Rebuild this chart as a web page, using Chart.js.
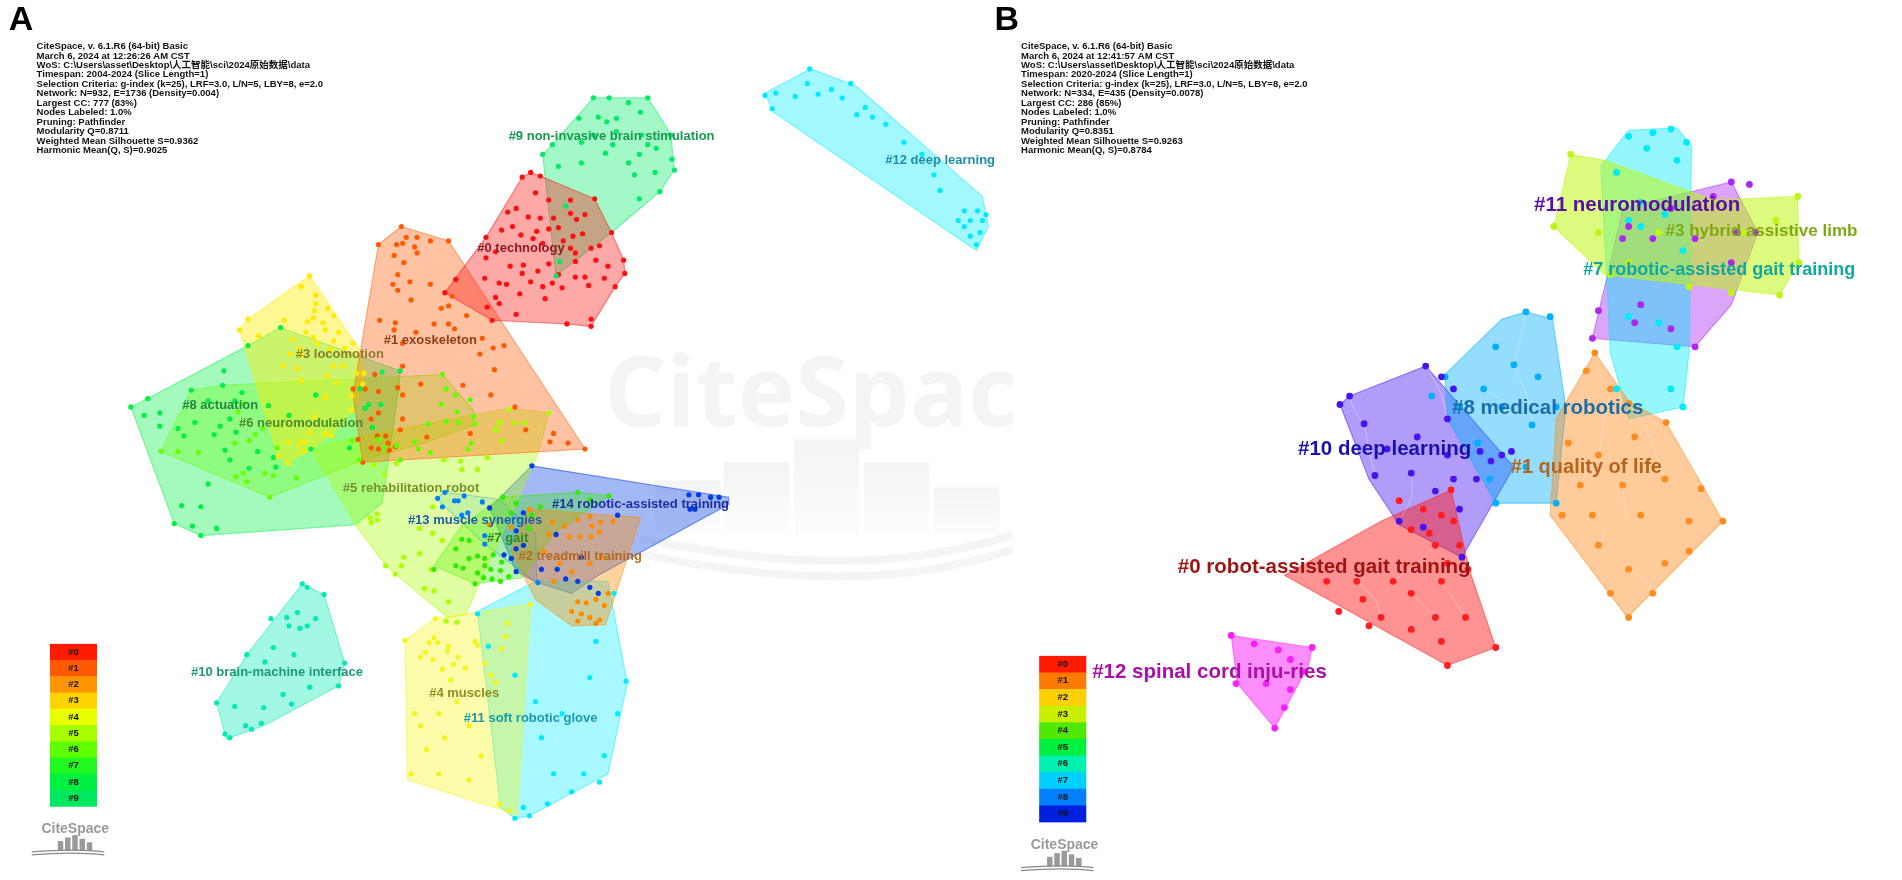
<!DOCTYPE html>
<html>
<head>
<meta charset="utf-8">
<title>CiteSpace cluster maps</title>
<script src="https://cdn.jsdelivr.net/npm/chart.js@4"></script>
<style>
  html, body { margin: 0; padding: 0; background: #fff; overflow: hidden; }
  #wrap { width: 1902px; height: 880px; }
</style>
</head>
<body>
<div id="wrap"><canvas id="map" width="1902" height="880"></canvas></div>
<script>
// all values, in picture units (1568 x 725)

// panel A
const a0Hull = [[429,144],[436,140],[444,143],[489,162],[503,190],[513,213],[514,224],[506,235],[486,268],[466,266],[404,263],[365,240],[399,194]];
const a0Pts = [[429,144],[436,140],[444,143],[489,162],[503,190],[513,213],[514,224],[506,235],[486,268],[466,266],[404,263],[365,240],[440,157],[451,163],[469,163],[424,170],[417,173],[434,177],[444,178],[455,178],[469,174],[474,179],[481,175],[421,185],[412,188],[441,189],[451,187],[459,186],[428,192],[399,194],[438,195],[463,197],[471,193],[479,191],[446,199],[486,203],[493,201],[469,203],[473,207],[407,206],[399,211],[490,213],[473,214],[419,218],[430,217],[451,216],[500,218],[442,222],[429,224],[398,228],[459,225],[473,227],[481,227],[497,228],[410,232],[416,233],[436,231],[446,235],[454,232],[462,236],[484,234],[427,241],[407,244],[410,249],[448,245],[400,252],[424,258],[486,262],[374,229]];
const a1Hull = [[329,185],[368,197],[481,370],[297,381],[289,325],[310,200]];
const a1Pts = [[329,185],[310,200],[368,197],[333,194],[342,194],[353,197],[325,200],[330,199],[340,202],[342,207],[323,209],[331,215],[326,225],[322,233],[336,231],[353,233],[326,238],[337,246],[371,243],[368,251],[362,253],[383,259],[311,263],[324,265],[323,271],[356,266],[368,266],[373,270],[341,273],[330,282],[396,278],[405,286],[414,284],[394,291],[330,301],[406,304],[307,308],[380,317],[345,316],[326,319],[289,320],[299,320],[310,322],[330,325],[403,325],[310,340],[304,345],[330,345],[328,354],[386,357],[350,360],[309,359],[316,359],[293,362],[318,365],[324,368],[304,369],[310,370],[319,371],[297,381],[423,335],[432,354],[455,357],[452,364],[467,365],[481,370]];
const a2Hull = [[434,420],[527,427],[498,516],[470,517],[440,495],[420,455]];
const a2Pts = [[435,420],[454,431],[464,434],[475,429],[485,426],[487,434],[494,431],[504,430],[493,439],[451,441],[468,443],[477,443],[486,443],[402,433],[420,435],[475,497],[482,498],[490,495],[497,500],[470,505],[478,507],[485,510],[493,512],[475,513],[490,515],[500,490],[447,455],[460,465],[470,472],[485,465],[495,460],[455,480]];
const a3Hull = [[253,226],[294,287],[298,308],[297,320],[288,338],[272,358],[235,382],[227,376],[195,271],[202,262]];
const a3Pts = [[253,226],[195,271],[202,262],[246,235],[258,242],[258,249],[257,255],[268,253],[273,259],[256,261],[232,263],[251,264],[264,265],[266,271],[250,273],[256,277],[277,273],[211,276],[239,279],[273,280],[259,282],[289,282],[245,286],[270,287],[282,286],[237,291],[246,291],[231,301],[273,301],[281,301],[243,303],[268,309],[292,307],[298,307],[246,313],[275,315],[297,316],[288,326],[266,327],[288,338],[257,343],[253,356],[266,357],[271,359],[235,364],[245,365],[249,364],[248,372],[227,376],[235,382]];
const a4Hull = [[357,511],[436,499],[425,675],[418,672],[334,645],[332,529]];
const a4Pts = [[357,511],[332,529],[356,527],[352,531],[359,531],[368,534],[367,538],[349,539],[345,543],[355,545],[376,543],[372,549],[382,552],[363,553],[370,562],[390,530],[392,533],[398,548],[403,558],[407,564],[412,536],[415,526],[417,515],[436,499],[340,590],[345,600],[360,590],[375,580],[385,600],[350,620],[365,610],[395,625],[360,640],[385,645],[410,665],[418,671],[337,640]];
const a5Hull = [[254,370],[293,360],[418,336],[451,340],[442,374],[382,508],[367,510],[316,467],[291,433]];
const a5Pts = [[418,337],[451,340],[410,348],[423,348],[431,348],[408,354],[412,363],[400,377],[392,387],[364,379],[378,380],[379,387],[306,383],[325,382],[315,391],[303,427],[309,424],[309,429],[304,431],[355,418],[344,436],[355,440],[363,446],[344,457],[331,460],[329,467],[316,467],[324,474],[348,486],[356,488],[368,497],[354,470],[366,513],[375,514],[411,348],[407,354]];
const a6Hull = [[155,321],[181,317],[363,308],[389,338],[389,350],[345,366],[300,378],[220,410],[130,372]];
const a6Pts = [[363,308],[366,320],[374,325],[386,329],[362,333],[375,339],[389,343],[390,349],[376,348],[366,347],[351,349],[340,364],[343,370],[353,373],[325,367],[328,379],[310,362],[315,369],[387,365],[384,370],[130,372],[144,372],[161,373],[191,365],[203,363],[208,358],[214,353],[194,339],[198,332],[226,369],[288,363],[294,379],[192,393],[198,390],[216,390],[223,392],[201,397],[242,394],[220,410]];
const a7Hull = [[356,467],[379,434],[412,410],[475,406],[501,409],[455,440],[429,477],[390,482]];
const a7Pts = [[379,445],[385,446],[374,453],[385,461],[392,459],[398,461],[405,458],[412,464],[374,467],[380,469],[398,467],[403,470],[411,471],[392,473],[397,477],[404,478],[411,480],[418,476],[390,482],[356,470],[413,410],[424,415],[420,423],[437,425],[435,436],[475,406],[485,412],[501,409],[444,418]];
const a8Hull = [[105,335],[119,328],[202,284],[229,269],[328,305],[327,319],[313,415],[291,433],[163,442],[141,432]];
const a8Pts = [[182,305],[197,323],[169,330],[191,330],[219,334],[105,335],[119,328],[116,342],[129,340],[158,348],[129,351],[144,353],[149,359],[174,358],[187,345],[179,351],[192,356],[236,342],[258,325],[295,320],[313,306],[328,305],[302,333],[299,336],[312,333],[305,352],[286,369],[254,370],[210,372],[183,371],[187,379],[203,386],[225,385],[223,377],[202,284],[229,269],[169,399],[147,417],[163,418],[141,432],[156,434],[176,436],[163,442],[155,321],[181,317]];
const a9Hull = [[488,78],[533,78],[552,108],[555,138],[543,156],[503,190],[457,226],[448,144],[446,125],[454,117]];
const a9Pts = [[488,78],[501,78],[533,78],[517,82],[527,90],[476,95],[492,94],[499,98],[507,95],[507,106],[488,109],[528,109],[552,109],[454,117],[478,115],[504,117],[533,117],[540,120],[446,125],[498,124],[526,125],[553,129],[459,135],[478,132],[517,132],[555,138],[522,142],[539,140],[543,156],[526,162],[465,168],[460,214],[457,226]];
const a10Hull = [[247,482],[265,491],[282,548],[277,567],[215,600],[184,611],[176,581],[201,541]];
const a10Pts = [[247,482],[251,485],[265,491],[221,511],[234,510],[243,506],[258,511],[236,517],[245,519],[251,517],[223,535],[240,541],[201,541],[216,547],[253,568],[231,574],[238,582],[176,581],[191,584],[215,585],[282,548],[277,567],[183,607],[187,610],[200,600],[205,603],[213,598]];
const a11Hull = [[392,505],[440,480],[500,480],[516,565],[500,640],[435,675],[423,677],[411,668]];
const a11Pts = [[392,507],[401,534],[423,558],[515,563],[508,590],[497,625],[480,640],[493,647],[470,655],[450,665],[435,675],[423,677],[430,668],[455,640],[445,610],[462,590],[440,580],[485,560],[490,530],[505,490]];
const a12Hull = [[630,74],[668,54],[705,68],[810,160],[815,185],[805,205],[637,90]];
const a12Pts = [[630,76],[639,74],[667,54],[665,66],[655,77],[674,75],[636,87],[701,66],[685,71],[694,78],[713,86],[706,92],[719,94],[730,100],[745,115],[760,125],[770,142],[775,155],[790,180],[795,172],[800,180],[806,172],[810,180],[808,190],[800,193],[795,185],[805,200],[813,175]];
const a13Hull = [[358,411],[365,406],[381,408],[410,412],[440,440],[441,481],[398,449]];
const a13Pts = [[359,411],[365,406],[373,413],[376,413],[381,409],[363,418],[396,414],[379,425],[384,423],[398,442],[398,449],[442,481]];
const a14Hull = [[437,384],[600,410],[600,416],[492,475],[470,490],[441,481],[424,472],[402,419]];
const a14Pts = [[437,384],[402,419],[430,423],[424,438],[424,453],[414,458],[420,461],[424,472],[457,441],[508,425],[567,408],[575,408],[585,410],[592,410],[568,420],[572,420],[458,470],[465,478],[475,480],[485,485],[492,490],[478,460],[445,470],[430,450]];

// panel B
const b0Hull = [[1198,404],[1213,470],[1235,535],[1195,550],[1060,475],[1140,430]];
const b0Pts = [[1198,404],[1155,413],[1175,420],[1190,425],[1200,430],[1180,440],[1165,437],[1205,450],[1185,450],[1195,465],[1212,470],[1095,480],[1120,480],[1150,480],[1190,480],[1105,505],[1125,495],[1165,490],[1140,510],[1185,510],[1130,517],[1210,510],[1235,535],[1195,550],[1165,520],[1190,530]];
const b1Hull = [[1317,290],[1345,330],[1376,348],[1423,430],[1344,510],[1280,425],[1285,345]];
const b1Pts = [[1317,290],[1310,305],[1330,320],[1345,332],[1376,348],[1405,403],[1423,430],[1295,365],[1320,375],[1350,360],[1305,400],[1340,400],[1375,395],[1290,425],[1315,425],[1355,425],[1395,430],[1320,450],[1345,470],[1375,465],[1395,455],[1330,490],[1345,510],[1365,490]];
const b3Hull = [[1297,125],[1325,130],[1415,163],[1485,160],[1486,215],[1470,242],[1325,225],[1283,185]];
const b3Pts = [[1297,125],[1283,185],[1320,190],[1345,185],[1370,190],[1415,163],[1485,160],[1467,180],[1440,190],[1486,215],[1470,242],[1430,240],[1395,235],[1330,225],[1345,215]];
const b7Hull = [[1345,105],[1385,103],[1397,118],[1395,290],[1390,335],[1345,345],[1330,290],[1322,135]];
const b7Pts = [[1365,107],[1380,104],[1345,110],[1393,115],[1360,120],[1385,130],[1335,140],[1355,165],[1345,180],[1375,175],[1355,185],[1390,205],[1345,260],[1370,265],[1385,285],[1380,320],[1390,335],[1335,320]];
const b8Hull = [[1193,308],[1240,262],[1260,256],[1282,262],[1293,335],[1285,415],[1235,415],[1195,345]];
const b8Pts = [[1235,285],[1260,256],[1280,260],[1250,300],[1270,310],[1285,335],[1225,320],[1193,310],[1205,335],[1240,335],[1265,350],[1220,365],[1285,415],[1235,415],[1260,385],[1230,395],[1182,326]];
const b10Hull = [[1177,301],[1250,385],[1207,460],[1155,433],[1130,395],[1106,333],[1114,326]];
const b10Pts = [[1177,301],[1114,326],[1106,333],[1126,349],[1190,310],[1200,320],[1145,370],[1170,360],[1195,345],[1222,372],[1195,375],[1240,375],[1248,372],[1231,380],[1219,395],[1135,392],[1155,430],[1175,435],[1207,460],[1205,420],[1200,395],[1165,390],[1185,405]];
const b11Hull = [[1340,170],[1430,148],[1452,190],[1430,250],[1400,285],[1315,278],[1330,215]];
const b11Pts = [[1430,148],[1445,150],[1415,160],[1380,170],[1345,185],[1340,195],[1365,195],[1400,195],[1435,190],[1450,190],[1430,215],[1320,255],[1315,278],[1355,250],[1380,270],[1400,285],[1350,265]];
const b12Hull = [[1016,525],[1083,535],[1080,550],[1052,602],[1021,565]];
const b12Pts = [[1016,525],[1035,532],[1055,537],[1083,535],[1065,545],[1075,555],[1020,565],[1045,565],[1065,570],[1060,585],[1052,602]];

// faint curved links in panel B
const bLinks = [
  [[1114,326],[1118,338],[1126,349]], [[1126,349],[1130,370],[1135,392]], [[1177,301],[1190,325],[1195,345]],
  [[1155,430],[1165,410],[1165,390]], [[1260,256],[1255,280],[1250,300]], [[1250,300],[1262,330],[1265,350]],
  [[1225,320],[1240,330],[1240,335]], [[1330,320],[1325,345],[1320,375]], [[1320,375],[1310,390],[1305,400]],
  [[1340,400],[1345,430],[1355,425]], [[1315,425],[1325,440],[1320,450]], [[1345,470],[1360,480],[1365,490]],
  [[1120,480],[1135,495],[1140,510]], [[1165,490],[1175,500],[1185,510]], [[1150,480],[1170,465],[1185,450]],
  [[1345,332],[1360,355],[1375,395]], [[1190,480],[1200,495],[1210,510]]
];

// cluster labels
const labelTexts = ['#0 technology','#1 exoskeleton','#2 treadmill training','#3 locomotion','#4 muscles','#5 rehabilitation robot','#6 neuromodulation','#7 gait','#8 actuation','#9 non-invasive brain stimulation','#10 brain-machine interface','#11 soft robotic glove','#12 deep learning','#13 muscle synergies','#14 robotic-assisted training'];
const labelX = [428,353,477,278,381,337,246,417,179,503,226,436,775,390,527];
const labelY = [203,280,459,291,573,403,349,444,334,110,556,594,130,429,416];
const labelColors = ['#8e1a24','#8f3d15','#b5681f','#8a7d2a','#8e8f24','#76922c','#4f8a2c','#2d8a1e','#1c8a40','#17994f','#1a9a78','#1d9aa6','#1a90aa','#1f5ca8','#1a2fa0'];
const labelTextsB = ['#0 robot-assisted gait training','#1 quality of life','#3 hybrid assistive limb','#7 robotic-assisted gait training','#8 medical robotics','#10 deep learning','#11 neuromodulation','#12 spinal cord inju-ries'];
const labelXB = [1093,1310,1455,1420,1278,1143,1352,998];
const labelYB = [468,385,189,221,336,370,167,556];
const labelSizesB = [20.5,20,17,18,20.5,20.5,20.5,20.5];
const labelColorsB = ['#a01414','#b5651d','#80a812','#12a8a0','#1b6fa8','#1a10b0','#5a10a8','#a810a8'];

// info blocks
const infoA = ['CiteSpace, v. 6.1.R6 (64-bit) Basic','March 6, 2024 at 12:26:26 AM CST','WoS: C:\\Users\\asset\\Desktop\\人工智能\\sci\\2024原始数据\\data','Timespan: 2004-2024 (Slice Length=1)','Selection Criteria: g-index (k=25), LRF=3.0, L/N=5, LBY=8, e=2.0','Network: N=932, E=1736 (Density=0.004)','Largest CC: 777 (83%)','Nodes Labeled: 1.0%','Pruning: Pathfinder','Modularity Q=0.8711','Weighted Mean Silhouette S=0.9362','Harmonic Mean(Q, S)=0.9025'];
const infoB = ['CiteSpace, v. 6.1.R6 (64-bit) Basic','March 6, 2024 at 12:41:57 AM CST','WoS: C:\\Users\\asset\\Desktop\\人工智能\\sci\\2024原始数据\\data','Timespan: 2020-2024 (Slice Length=1)','Selection Criteria: g-index (k=25), LRF=3.0, L/N=5, LBY=8, e=2.0','Network: N=334, E=435 (Density=0.0078)','Largest CC: 286 (85%)','Nodes Labeled: 1.0%','Pruning: Pathfinder','Modularity Q=0.8351','Weighted Mean Silhouette S=0.9263','Harmonic Mean(Q, S)=0.8784'];

// colour keys
const keyNames = ['#0','#1','#2','#3','#4','#5','#6','#7','#8','#9'];
const keyColorsA = ['#ff1a00','#ff5a00','#ff9500','#ffd500','#e8ff00','#a8ff00','#60ff00','#20f820','#00f040','#00e860'];
const keyColorsB = ['#ff1a00','#ff7a00','#ffd000','#c8ef00','#50e800','#00f040','#00f0b0','#00d0ff','#0080ff','#0020e0'];

// watermark bars in panel A
const wmBarX = [539,596,654,712,770];
const wmBarTop = [396,381,362,381,402];

function pts(list) { return list.map(p => ({ x: p[0], y: p[1] })); }

const datasets = [];
function addCluster(hull, points, rgb, fillA, radius, order) {
  datasets.push({
    data: pts(hull.concat([hull[0]])), showLine: true, fill: 'shape', pointRadius: 0,
    borderColor: 'rgba(' + rgb + ',0.5)', borderWidth: 1.1, backgroundColor: 'rgba(' + rgb + ',' + fillA + ')',
    tension: 0, order: order
  });
  datasets.push({ data: pts(points), pointRadius: radius, pointBorderWidth: 0, pointBackgroundColor: 'rgb(' + rgb + ')', order: 1 });
}

// order: bigger goes underneath, so #0 ends up on top
addCluster(a14Hull, a14Pts, '0,60,230', 0.36, 2.6, 114);
addCluster(a13Hull, a13Pts, '0,130,255', 0.16, 2.6, 113);
addCluster(a12Hull, a12Pts, '0,235,255', 0.36, 2.6, 112);
addCluster(a11Hull, a11Pts, '0,235,255', 0.34, 2.6, 111);
addCluster(a10Hull, a10Pts, '0,235,180', 0.36, 2.6, 110);
addCluster(a9Hull, a9Pts, '0,235,100', 0.36, 2.6, 109);
addCluster(a8Hull, a8Pts, '0,240,70', 0.36, 2.6, 108);
addCluster(a7Hull, a7Pts, '50,235,0', 0.32, 2.6, 107);
addCluster(a6Hull, a6Pts, '100,255,0', 0.3, 2.6, 106);
addCluster(a5Hull, a5Pts, '170,255,0', 0.36, 2.6, 105);
addCluster(a4Hull, a4Pts, '245,245,30', 0.38, 2.6, 104);
addCluster(a3Hull, a3Pts, '255,235,0', 0.42, 2.6, 103);
addCluster(a2Hull, a2Pts, '255,140,0', 0.38, 2.6, 102);
addCluster(a1Hull, a1Pts, '255,90,0', 0.36, 2.6, 101);
addCluster(a0Hull, a0Pts, '255,15,15', 0.36, 2.6, 100);

addCluster(b12Hull, b12Pts, '250,30,250', 0.5, 3.4, 99);
addCluster(b11Hull, b11Pts, '170,40,240', 0.42, 3.4, 98);
addCluster(b10Hull, b10Pts, '70,20,240', 0.42, 3.4, 97);
addCluster(b8Hull, b8Pts, '0,175,255', 0.42, 3.4, 96);
addCluster(b7Hull, b7Pts, '0,235,250', 0.42, 3.4, 95);
addCluster(b3Hull, b3Pts, '190,245,20', 0.55, 3.4, 94);
addCluster(b1Hull, b1Pts, '255,140,30', 0.45, 3.4, 93);
addCluster(b0Hull, b0Pts, '255,30,30', 0.48, 3.4, 92);

bLinks.forEach(l => datasets.push({
  data: pts(l), showLine: true, pointRadius: 0, tension: 0.4, borderWidth: 0.8,
  borderColor: 'rgba(255,255,255,0.4)', order: 2
}));

// watermark, drawn under the clusters
const watermark = {
  id: 'watermark',
  beforeDatasetsDraw(chart) {
    const c = chart.ctx, sx = chart.scales.x, sy = chart.scales.y;
    c.save();
    c.beginPath();
    c.rect(0, 0, sx.getPixelForValue(835), 880);
    c.clip();
    c.fillStyle = '#f4f4f4';
    c.font = 'bold 97px "Open Sans", "Liberation Sans", sans-serif';
    c.textBaseline = 'alphabetic';
    c.fillText('CiteSpace', sx.getPixelForValue(497), sy.getPixelForValue(351));
    wmBarX.forEach((x, i) => {
      const x0 = sx.getPixelForValue(x), w = sx.getPixelForValue(x + 54) - x0;
      const y0 = sy.getPixelForValue(wmBarTop[i]), y1 = sy.getPixelForValue(442);
      const g = c.createLinearGradient(0, y0, 0, y1);
      g.addColorStop(0, '#f4f4f4');
      g.addColorStop(1, '#fdfdfd');
      c.fillStyle = g;
      c.fillRect(x0, y0, w, y1 - y0);
    });
    c.strokeStyle = '#f5f5f5';
    c.lineCap = 'round';
    [[8, 440, 463, 445], [8, 452, 476, 458]].forEach(a => {
      c.lineWidth = a[0];
      c.beginPath();
      c.moveTo(sx.getPixelForValue(530), sy.getPixelForValue(a[3]));
      c.quadraticCurveTo(sx.getPixelForValue(620), sy.getPixelForValue(a[2]), sx.getPixelForValue(690), sy.getPixelForValue(a[2]));
      c.quadraticCurveTo(sx.getPixelForValue(770), sy.getPixelForValue(a[2]), sx.getPixelForValue(840), sy.getPixelForValue(a[1]));
      c.stroke();
    });
    c.restore();
  }
};

// text, colour keys and logos on top
const overlay = {
  id: 'overlay',
  afterDatasetsDraw(chart) {
    const c = chart.ctx, sx = chart.scales.x, sy = chart.scales.y;
    const font = '"Liberation Sans", "Noto Sans CJK SC", sans-serif';
    c.save();
    c.textBaseline = 'middle';

    c.textAlign = 'center';
    c.font = 'bold 13px ' + font;
    labelTexts.forEach((t, i) => {
      c.fillStyle = labelColors[i];
      c.fillText(t, sx.getPixelForValue(labelX[i]), sy.getPixelForValue(labelY[i]));
    });
    labelTextsB.forEach((t, i) => {
      c.font = 'bold ' + labelSizesB[i] + 'px ' + font;
      c.fillStyle = labelColorsB[i];
      c.fillText(t, sx.getPixelForValue(labelXB[i]), sy.getPixelForValue(labelYB[i]));
    });

    c.textAlign = 'left';
    c.fillStyle = '#111';
    c.font = 'bold 9.5px ' + font;
    infoA.forEach((t, i) => c.fillText(t, sx.getPixelForValue(27), 46.5 + i * 9.45));
    infoB.forEach((t, i) => c.fillText(t, sx.getPixelForValue(842), 46.5 + i * 9.45));

    c.fillStyle = '#000';
    c.font = 'bold 34px ' + font;
    c.fillText('A', sx.getPixelForValue(4), 21);
    c.fillText('B', sx.getPixelForValue(820), 21);

    drawKey(c, sx, sy, 38, 532, 13.5, keyColorsA, font);
    drawKey(c, sx, sy, 857, 542, 13.8, keyColorsB, font);
    drawLogo(c, sx, sy, 59, 686, font);
    drawLogo(c, sx, sy, 878, 699, font);
    c.restore();
  }
};

function drawKey(c, sx, sy, x, y, rowH, colors, font) {
  const left = sx.getPixelForValue(x), w = sx.getPixelForValue(x + 39) - left;
  colors.forEach((col, i) => {
    const top = sy.getPixelForValue(y + i * rowH), h = sy.getPixelForValue(y + (i + 1) * rowH) - top;
    c.fillStyle = col;
    c.fillRect(left, top, w, h + 0.5);
    c.fillStyle = '#111';
    c.font = 'bold 9.5px ' + font;
    c.textAlign = 'center';
    c.fillText(keyNames[i], left + w / 2, top + h / 2);
  });
}

function drawLogo(c, sx, sy, x, y, font) {
  c.textAlign = 'center';
  c.fillStyle = '#9a9a9a';
  c.font = 'bold 14px ' + font;
  c.fillText('CiteSpace', sx.getPixelForValue(x), sy.getPixelForValue(y));
  [[-12, 8], [-6, 11], [0, 13], [6, 10], [12, 7]].forEach(b => {
    const x0 = sx.getPixelForValue(x + b[0] - 2.5);
    c.fillRect(x0, sy.getPixelForValue(y + 18 - b[1]), 5.5, sy.getPixelForValue(y + 18) - sy.getPixelForValue(y + 18 - b[1]));
  });
  c.strokeStyle = '#8a8a8a';
  c.lineWidth = 1.2;
  [18, 20.5].forEach(d => {
    c.beginPath();
    c.moveTo(sx.getPixelForValue(x - 36), sy.getPixelForValue(y + d + 1));
    c.quadraticCurveTo(sx.getPixelForValue(x), sy.getPixelForValue(y + d - 2), sx.getPixelForValue(x + 24), sy.getPixelForValue(y + d + 1));
    c.stroke();
  });
}

new Chart(document.getElementById('map'), {
  type: 'scatter',
  data: { datasets: datasets },
  plugins: [watermark, overlay],
  options: {
    responsive: false,
    animation: false,
    devicePixelRatio: 1,
    layout: { padding: 0 },
    events: [],
    scales: {
      x: { type: 'linear', min: 0, max: 1568, display: false },
      y: { type: 'linear', min: 0, max: 725, reverse: true, display: false }
    },
    plugins: { legend: { display: false }, tooltip: { enabled: false } }
  }
});
</script>
</body>
</html>
